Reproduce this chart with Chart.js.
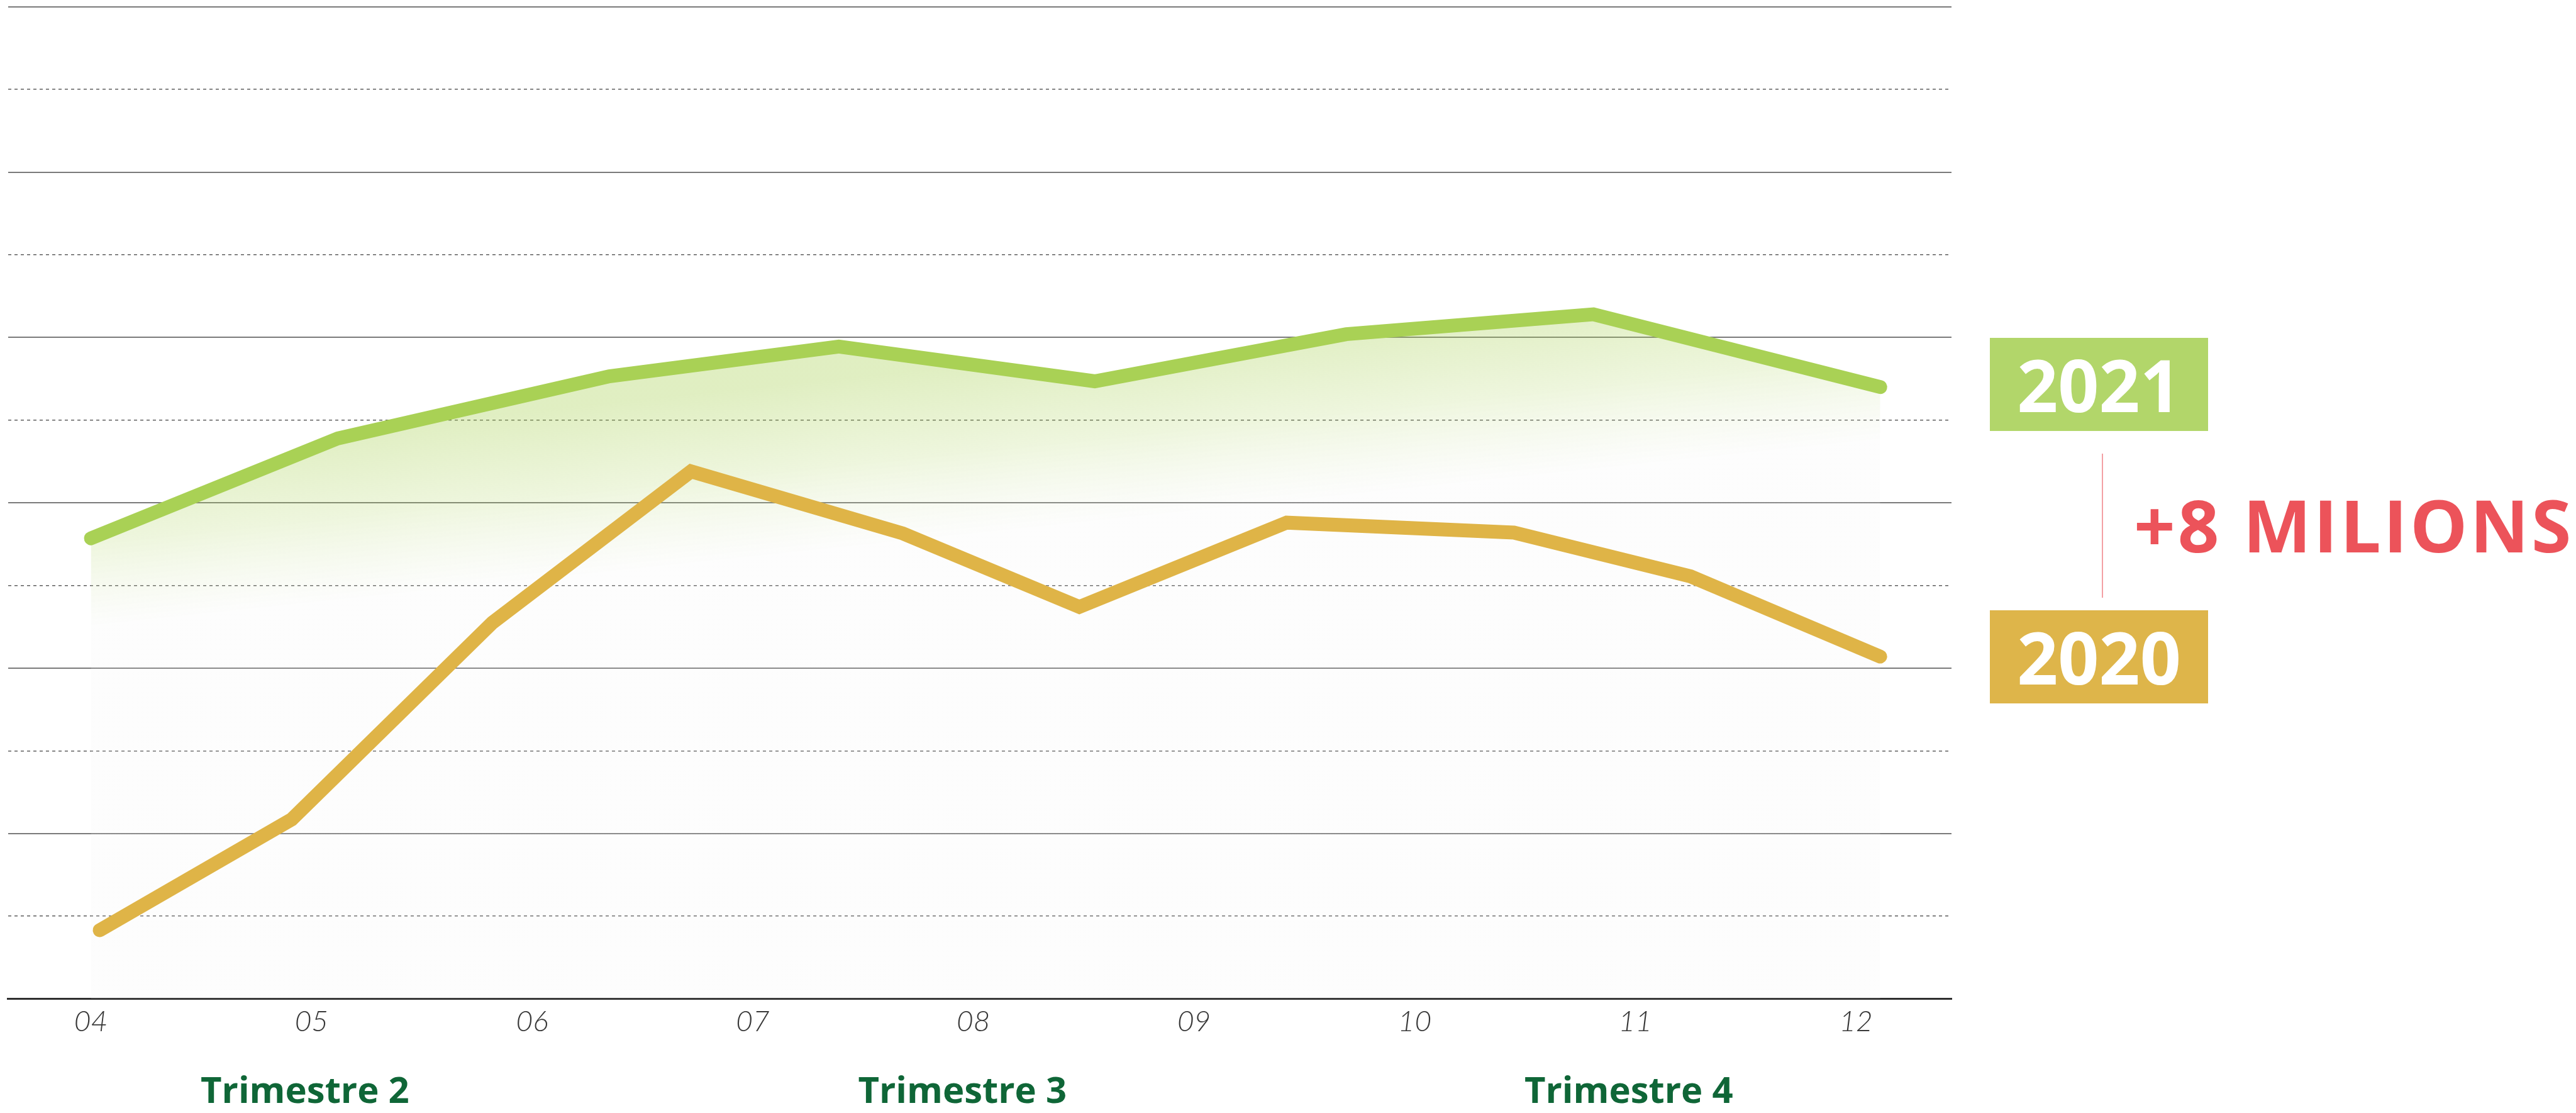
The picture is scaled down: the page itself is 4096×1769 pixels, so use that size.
<!DOCTYPE html>
<html>
<head>
<meta charset="utf-8">
<script src="https://cdn.jsdelivr.net/npm/chart.js@4.4.1/dist/chart.umd.min.js"></script>
<style>
  html, body { margin: 0; padding: 0; background: #fff; overflow: hidden; }
  #wrap { position: relative; width: 4096px; height: 1769px; }
  .yearBox {
    position: absolute; left: 3164px; width: 347px; height: 148px;
    color: #fff; font-family: 'Open Sans', sans-serif; font-weight: 700;
    font-size: 114px; line-height: 148px; text-align: center;
  }
  #box2021 { top: 537px; background: #b2d66a; }
  #box2020 { top: 970px; background: #deb54a; }
  #diffLine { position: absolute; left: 3342px; top: 721px; width: 2px; height: 229px; background: #f3a0a4; }
  #diffText {
    position: absolute; left: 3393px; top: 764px; height: 140px; line-height: 140px;
    color: #ec535a; font-family: 'Open Sans', sans-serif; font-weight: 700;
    font-size: 115px; letter-spacing: 4px; white-space: nowrap;
  }
</style>
</head>
<body>
<div id="wrap">
  <canvas id="salesChart"></canvas>
  <div class="yearBox" id="box2021">2021</div>
  <div class="yearBox" id="box2020">2020</div>
  <div id="diffLine"></div>
  <div id="diffText">+8 MILIONS</div>
</div>
<script>
// months shown on the axis (04 .. 12)
const monthTicks = [4, 5, 6, 7, 8, 9, 10, 11, 12];
const quarterNames = ['Trimestre 2', 'Trimestre 3', 'Trimestre 4'];
const quarterPos = [4.97, 7.95, 10.97];

// 2021 series (x = month position, y = value in grid units)
const x2021 = [4.00, 5.12, 6.35, 7.39, 8.55, 9.69, 10.81, 12.11];
const v2021 = [5.57, 6.78, 7.53, 7.89, 7.47, 8.04, 8.28, 7.40];

// 2020 series
const x2020 = [4.04, 4.91, 5.82, 6.72, 7.68, 8.48, 9.42, 10.45, 11.25, 12.11];
const v2020 = [0.83, 2.17, 4.55, 6.38, 5.63, 4.74, 5.76, 5.64, 5.11, 4.14];

const toPoints = (xs, ys) => xs.map((x, i) => ({ x: x, y: ys[i] }));

const greenFill = (context) => {
  const chart = context.chart;
  const { chartArea, scales } = chart;
  if (!chartArea) return null;
  const x0 = scales.x.getPixelForValue(10.8), y0 = scales.y.getPixelForValue(8.45);
  const x1 = scales.x.getPixelForValue(10.88), y1 = scales.y.getPixelForValue(6.4);
  const g = chart.ctx.createLinearGradient(x0, y0, x1, y1);
  g.addColorStop(0, 'rgba(169,209,85,0.36)');
  g.addColorStop(0.5, 'rgba(169,209,85,0.2)');
  g.addColorStop(1, 'rgba(240,240,240,0.14)');
  return g;
};

const ctx = document.getElementById('salesChart').getContext('2d');

new Chart(ctx, {
  type: 'line',
  data: {
    datasets: [
      {
        label: '2020',
        data: toPoints(x2020, v2020),
        borderColor: '#dfb447',
        borderWidth: 22,
        borderCapStyle: 'round',
        borderJoinStyle: 'miter',
        pointRadius: 0,
        fill: false,
        tension: 0
      },
      {
        label: '2021',
        data: toPoints(x2021, v2021),
        borderColor: '#a9d155',
        borderWidth: 22,
        borderCapStyle: 'round',
        borderJoinStyle: 'miter',
        pointRadius: 0,
        fill: 'start',
        backgroundColor: greenFill,
        tension: 0
      }
    ]
  },
  options: {
    responsive: true,
    maintainAspectRatio: false,
    animation: false,
    layout: {
      autoPadding: false,
      padding: { left: 12.6, top: 10.8, right: 993, bottom: 0 }
    },
    plugins: {
      legend: { display: false },
      tooltip: { enabled: false }
    },
    scales: {
      x: {
        type: 'linear',
        position: 'bottom',
        weight: 0,
        min: 3.624,
        max: 12.433,
        afterBuildTicks: (scale) => { scale.ticks = monthTicks.map(v => ({ value: v })); },
        afterFit: (scale) => { scale.height = 70; },
        ticks: {
          autoSkip: false,
          maxRotation: 0,
          padding: 9,
          color: '#383838',
          font: { family: 'Lato', size: 46, style: 'italic', weight: 300 },
          callback: (v) => String(v).padStart(2, '0')
        },
        grid: { display: false, drawTicks: false },
        border: { display: true, color: '#2e2e2e', width: 3 }
      },
      quarters: {
        type: 'linear',
        position: 'bottom',
        weight: 1,
        min: 3.624,
        max: 12.433,
        afterBuildTicks: (scale) => { scale.ticks = quarterPos.map(v => ({ value: v })); },
        afterFit: (scale) => { scale.height = 111.5; },
        ticks: {
          autoSkip: false,
          maxRotation: 0,
          padding: 44,
          color: '#0f6637',
          font: { family: 'Open Sans', size: 58, weight: 700 },
          callback: (v, i) => quarterNames[i]
        },
        grid: { display: false, drawTicks: false },
        border: { display: false }
      },
      y: {
        type: 'linear',
        min: 0,
        max: 12,
        afterFit: (scale) => { scale.width = 0; },
        ticks: { display: false, stepSize: 2 },
        grid: { color: '#7a7a7a', lineWidth: 2, drawTicks: false },
        border: { display: false }
      },
      y2: {
        type: 'linear',
        position: 'left',
        min: 0,
        max: 12,
        afterFit: (scale) => { scale.width = 0; },
        ticks: { display: false, stepSize: 1 },
        grid: {
          color: (c) => (c.tick && c.tick.value % 2 === 1) ? '#5e5e5e' : 'rgba(0,0,0,0)',
          lineWidth: 1.5,
          drawTicks: false
        },
        border: { display: false, dash: [5, 5] }
      }
    }
  }
});
</script>
</body>
</html>
